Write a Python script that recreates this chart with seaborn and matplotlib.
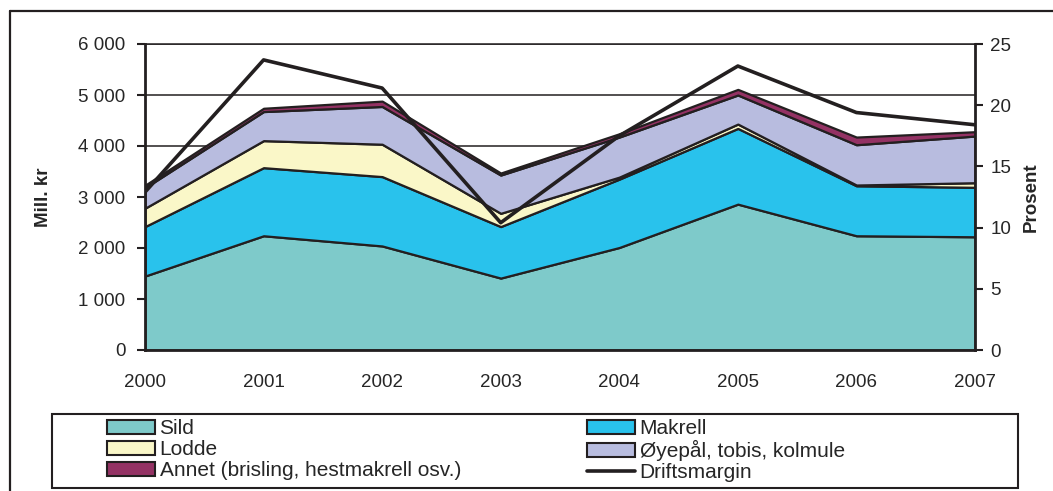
import matplotlib
matplotlib.use("Agg")
import matplotlib.pyplot as plt
import matplotlib.patches as mpatches
from matplotlib.lines import Line2D
import seaborn as sns
import pandas as pd

# data (mill. kr, stacked)
years = [2000, 2001, 2002, 2003, 2004, 2005, 2006, 2007]
sild = [1450, 2240, 2040, 1410, 2010, 2860, 2240, 2220]
makrell = [970, 1335, 1360, 1010, 1340, 1485, 980, 970]
lodde = [360, 530, 635, 260, 40, 85, 15, 90]
oyepal = [400, 570, 740, 750, 785, 570, 790, 915]
annet = [50, 65, 105, 40, 65, 110, 150, 85]
# percent, right axis
driftsmargin = [12.9, 23.7, 21.4, 10.4, 17.5, 23.2, 19.4, 18.4]

series_names = ["Sild", "Makrell", "Lodde", "Øyepål, tobis, kolmule",
                "Annet (brisling, hestmakrell osv.)"]
colors = ["#7ECACA", "#29C2EC", "#FAF7C8", "#B8BCDF", "#943264"]
line_name = "Driftsmargin"

left_ticks = [0, 1000, 2000, 3000, 4000, 5000, 6000]
left_labels = ["0", "1 000", "2 000", "3 000", "4 000", "5 000", "6 000"]
right_ticks = [0, 5, 10, 15, 20, 25]

sns.set_style("white")
plt.rcParams["font.family"] = ["Liberation Sans", "DejaVu Sans"]
ink = "#231F20"

fig = plt.figure(figsize=(10.53, 4.91), dpi=100)
ax = fig.add_axes([145 / 1053, 1 - 350 / 491, 830 / 1053, 306 / 491])

# gridlines under the areas
for t in left_ticks[1:]:
    ax.axhline(t, color=ink, lw=1.1, zorder=0)

ax.stackplot(years, sild, makrell, lodde, oyepal, annet, colors=colors,
             edgecolor=ink, linewidth=1.6, zorder=2)

ax.set_xlim(2000, 2007)
ax.set_ylim(0, 6000)
ax.set_xticks(years)
ax.set_xticklabels([str(y) for y in years], fontsize=13.5)
ax.set_yticks(left_ticks)
ax.set_yticklabels(left_labels, fontsize=13.5)
ax.tick_params(axis="x", direction="out", length=5, width=1.5, color=ink, pad=12)
ax.tick_params(axis="y", direction="out", length=6, width=1.5, color=ink, pad=8)
ax.set_ylabel("Mill. kr", fontsize=13.5, fontweight="bold")
ax.yaxis.set_label_coords(-0.112, 0.5)
for side in ["left", "bottom"]:
    ax.spines[side].set_linewidth(2)
    ax.spines[side].set_color(ink)
ax.spines["top"].set_linewidth(1.1)
ax.spines["top"].set_color(ink)
ax.spines["right"].set_visible(False)

ax2 = ax.twinx()
df = pd.DataFrame({"year": years, "pct": driftsmargin})
sns.lineplot(data=df, x="year", y="pct", ax=ax2, color=ink, lw=2.6)
ax2.set_ylim(0, 25)
ax2.set_yticks(right_ticks)
ax2.set_yticklabels([str(t) for t in right_ticks], fontsize=13.5)
ax2.tick_params(axis="y", direction="out", length=6, width=1.5, color=ink, pad=5)
ax2.set_ylabel("Prosent", fontsize=13.5, fontweight="bold")
ax2.yaxis.set_label_coords(1.058, 0.5)
ax2.set_xlabel("")
for side in ["left", "top", "bottom"]:
    ax2.spines[side].set_visible(False)
ax2.spines["right"].set_linewidth(2)
ax2.spines["right"].set_color(ink)

# outer frame (right and bottom run off the picture)
fig.add_artist(Line2D([10 / 1053, 10 / 1053], [0, 1 - 11 / 491], color=ink, lw=1.6,
                      transform=fig.transFigure))
fig.add_artist(Line2D([10 / 1053, 1], [1 - 11 / 491, 1 - 11 / 491], color=ink, lw=1.6,
                      transform=fig.transFigure))

# legend box
fig.add_artist(mpatches.Rectangle((52 / 1053, 1 - 488 / 491), 966 / 1053, 74 / 491,
                                  fill=False, edgecolor=ink, lw=1.5,
                                  transform=fig.transFigure))

patches = [mpatches.Patch(facecolor=c, edgecolor=ink, linewidth=1.5, label=n)
           for c, n in zip(colors, series_names)]
line_handle = Line2D([], [], color=ink, lw=2.6, label=line_name)
col1 = [patches[0], patches[2], patches[4]]
col2 = [patches[1], patches[3], line_handle]
leg_kw = dict(loc="upper left", frameon=False, fontsize=15, borderpad=0,
              borderaxespad=0, handlelength=2.3, handleheight=0.68,
              handletextpad=0.22, labelspacing=0.1)
fig.legend(handles=col1, bbox_to_anchor=(107 / 1053, 1 - 419 / 491), **leg_kw)
fig.legend(handles=col2, bbox_to_anchor=(587 / 1053, 1 - 419 / 491), **leg_kw)

fig.savefig("out.png", dpi=100)
